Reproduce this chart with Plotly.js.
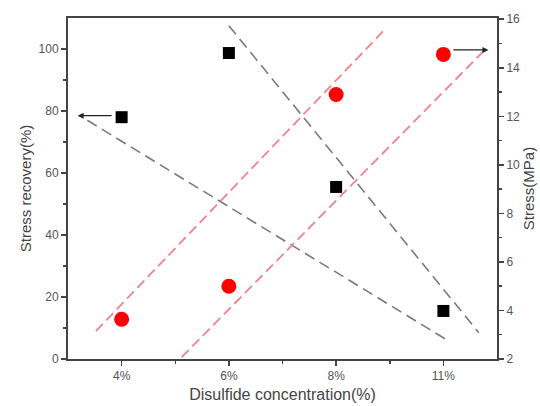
<!DOCTYPE html>
<html>
<head>
<meta charset="utf-8">
<script src="https://cdn.plot.ly/plotly-3.0.1.min.js"></script>
<style>html,body{margin:0;padding:0;background:#fff;}#chart{width:540px;height:406px;}</style>
</head>
<body>
<div id="chart"></div>
<script>
// Data
const categories = ["4%", "6%", "8%", "11%"];
const stressRecovery = [78, 98.7, 55.5, 15.5];   // %, left axis (black squares)
const stress = [3.64, 5.0, 12.9, 14.55];           // MPa, right axis (red circles)

// Guide lines (x in category index units, y in left-axis units)
const grayLine1X = [-0.32, 3.04], grayLine1Y = [77, 6];
const grayLine2X = [1.0, 3.33],   grayLine2Y = [107.5, 8.5];
const redLine1X  = [-0.24, 2.46], redLine1Y  = [9, 106.5];
const redLine2X  = [0.56, 3.38],  redLine2Y  = [0.6, 99.5];
// Arrows: [fromX, toX, y]
const arrowLeft  = [-0.08, -0.41, 78.5];
const arrowRight = [3.08, 3.42, 99.7];

const xIdx = categories.map((c, i) => i);
const font = "Liberation Sans, Arial, sans-serif";
const axisCol = "#444";

const traces = [
  {x: grayLine1X, y: grayLine1Y, mode: "lines", line: {color: "#7a7a7a", width: 1.6, dash: "11px,6px"}, hoverinfo: "skip", showlegend: false},
  {x: grayLine2X, y: grayLine2Y, mode: "lines", line: {color: "#7a7a7a", width: 1.6, dash: "11px,6px"}, hoverinfo: "skip", showlegend: false},
  {x: redLine1X, y: redLine1Y, mode: "lines", line: {color: "#f4828c", width: 1.8, dash: "10px,5px"}, hoverinfo: "skip", showlegend: false},
  {x: redLine2X, y: redLine2Y, mode: "lines", line: {color: "#f4828c", width: 1.8, dash: "10px,5px"}, hoverinfo: "skip", showlegend: false},
  {x: xIdx, y: stressRecovery, mode: "markers", name: "Stress recovery", marker: {symbol: "square", size: 12, color: "#000"}, showlegend: false},
  {x: xIdx, y: stress, yaxis: "y2", mode: "markers", name: "Stress", marker: {symbol: "circle", size: 15, color: "#ff0000"}, showlegend: false}
];

const layout = {
  width: 540, height: 406,
  margin: {l: 68, r: 43, t: 18, b: 47},
  paper_bgcolor: "#fff", plot_bgcolor: "#fff",
  font: {family: font, color: "#444", size: 12},
  showlegend: false,
  xaxis: {
    range: [-0.5, 3.5],
    tickmode: "array", tickvals: xIdx, ticktext: categories,
    ticks: "outside", ticklen: 5, tickwidth: 1.5, tickcolor: axisCol,
    minor: {tickmode: "array", tickvals: [0.5, 1.5, 2.5], ticks: "outside", ticklen: 3, tickwidth: 1.5, tickcolor: axisCol},
    showline: true, linecolor: axisCol, linewidth: 2, mirror: true,
    showgrid: false, zeroline: false,
    tickfont: {size: 12, color: "#555"},
    title: {text: "Disulfide concentration(%)", font: {size: 16, color: "#444"}, standoff: 6}
  },
  yaxis: {
    range: [0, 110],
    tickmode: "array", tickvals: [0, 20, 40, 60, 80, 100],
    ticks: "outside", ticklen: 5, tickwidth: 1.5, tickcolor: axisCol,
    minor: {tickmode: "array", tickvals: [10, 30, 50, 70, 90], ticks: "outside", ticklen: 3, tickwidth: 1.5, tickcolor: axisCol},
    showline: true, linecolor: axisCol, linewidth: 2,
    showgrid: false, zeroline: false,
    tickfont: {size: 12, color: "#555"},
    title: {text: "Stress recovery(%)", font: {size: 15, color: "#444"}, standoff: 3}
  },
  yaxis2: {
    overlaying: "y", side: "right",
    range: [2, 16.05],
    tickmode: "array", tickvals: [2, 4, 6, 8, 10, 12, 14, 16],
    ticks: "outside", ticklen: 5, tickwidth: 1.5, tickcolor: axisCol,
    minor: {tickmode: "array", tickvals: [3, 5, 7, 9, 11, 13, 15], ticks: "outside", ticklen: 3, tickwidth: 1.5, tickcolor: axisCol},
    showline: true, linecolor: axisCol, linewidth: 2,
    showgrid: false, zeroline: false,
    tickfont: {size: 12, color: "#555"},
    title: {text: "Stress(MPa)", font: {size: 15, color: "#444"}, standoff: 4}
  },
  annotations: [
    {x: arrowLeft[1], y: arrowLeft[2], ax: arrowLeft[0], ay: arrowLeft[2], xref: "x", yref: "y", axref: "x", ayref: "y",
     showarrow: true, arrowhead: 2, arrowsize: 1, arrowwidth: 1.2, arrowcolor: "#222", text: ""},
    {x: arrowRight[1], y: arrowRight[2], ax: arrowRight[0], ay: arrowRight[2], xref: "x", yref: "y", axref: "x", ayref: "y",
     showarrow: true, arrowhead: 2, arrowsize: 1, arrowwidth: 1.2, arrowcolor: "#222", text: ""}
  ]
};

Plotly.newPlot("chart", traces, layout, {displayModeBar: false, staticPlot: true});
</script>
</body>
</html>
